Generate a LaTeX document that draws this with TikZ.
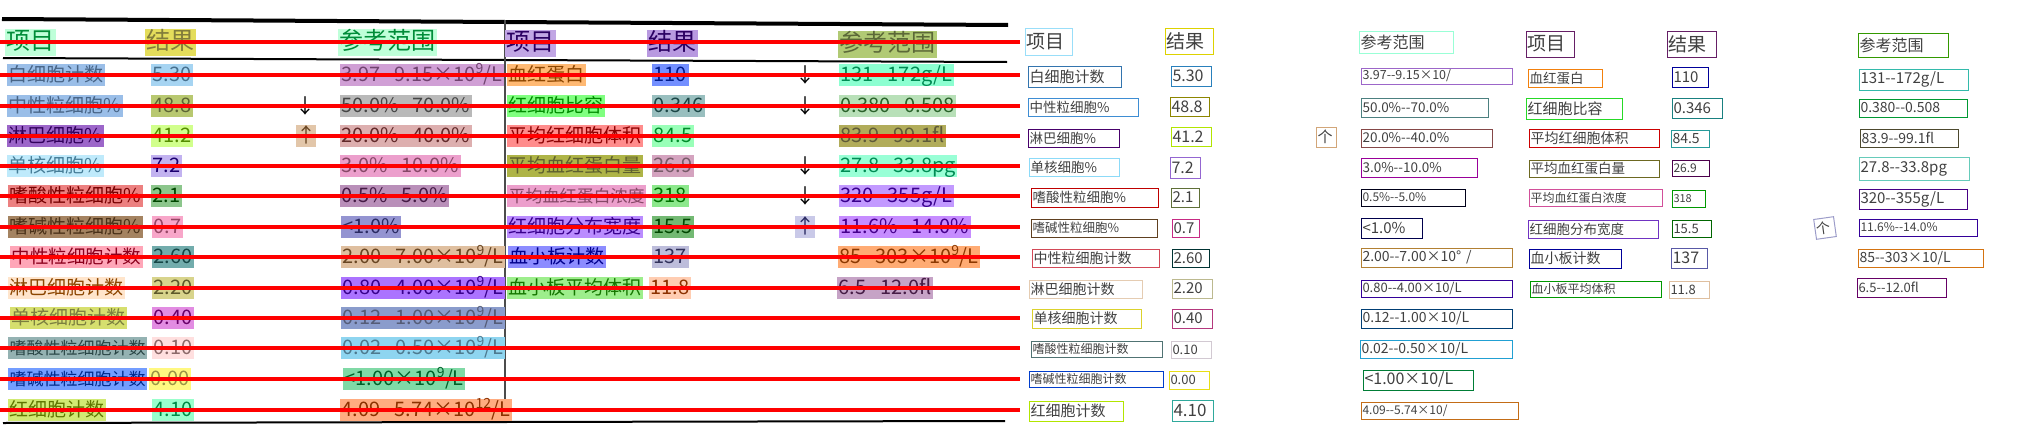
\documentclass[tikz,border=0pt]{standalone}
\usepackage{fontspec}
\newfontfamily\cjk{Noto Sans CJK SC}
\newcommand\tsize[1]{\cjk\fontsize{#1}{#1}\selectfont}
\begin{document}
\begin{tikzpicture}[
    x=1pt, y=-1pt,
    cell/.style={anchor=west, inner xsep=1.5pt, inner ysep=2pt, text height=15pt, text depth=3pt},
    hl/.style 2 args={cell, fill=#1!#2, text=#1!55!black, font=\tsize{19}},
    head/.style 2 args={hl={#1}{#2}, font=\tsize{24}, text height=19pt, text depth=4pt},
    num/.style 2 args={hl={#1}{#2}, font=\tsize{20}},
    arrowsign/.style={font=\tsize{20}, inner sep=0pt, text=black},
    ocr/.style={anchor=west, draw=#1, line width=1pt, inner xsep=1pt, inner ysep=0pt, align=left, text=black!75, font=\tsize{14}},
    strike/.style={red, line width=3.5pt},
    tablerule/.style={black, line width=#1}
]
    \useasboundingbox (0,0) rectangle (2040,434);

    % Table rules
    \draw [tablerule=4pt] (2,19) -- (1008,25);
    \draw [tablerule=2pt] (3,58) -- (1007,62);
    \draw [tablerule=1.5pt, black!70] (505,20) -- (505,422);
    \draw [tablerule=2pt] (3,423) -- (1005,421);

    % Left table, first half
    \node [head={green!60!cyan}{25}] (L0a) at (5,42) {项目};
    \node [head={olive!40!yellow}{60}] (L0b) at (145,42) {结果};
    \node [head={green!60!cyan}{25}] (L0c) at (338,42) {参考范围};

    \node [hl={cyan!60!blue}{40}] (L1a) at (7,75) {白细胞计数};
    \node [num={cyan!80!blue}{35}] (L1b) at (151,75) {5.30};
    \node [num={magenta!50!blue}{35}] (L1c) at (340,75) {3.97--9.15×10\textsuperscript{9}/L};

    \node [hl={cyan!60!blue}{40}] (L2a) at (7,106) {中性粒细胞\%};
    \node [num={olive!70!green}{50}] (L2b) at (151,106) {48.8};
    \node [arrowsign] (L2s) at (305,106) {↓};
    \node [num={gray}{55}] (L2c) at (340,106) {50.0\%--70.0\%};

    \node [hl={violet!70!blue}{60}] (L3a) at (7,136) {淋巴细胞\%};
    \node [num={lime!80!green}{45}] (L3b) at (151,136) {41.2};
    \node [hl={brown}{45}, anchor=center, font=\tsize{20}, inner xsep=0pt] (L3s) at (306,136) {↑};
    \node [num={red!40!gray}{45}] (L3c) at (340,136) {20.0\%--40.0\%};

    \node [hl={cyan}{25}] (L4a) at (7,166) {单核细胞\%};
    \node [num={blue!60!violet}{30}] (L4b) at (151,166) {7.2};
    \node [num={magenta!70!violet}{40}] (L4c) at (340,166) {3.0\%--10.0\%};

    \node [hl={red!85!black}{50}] (L5a) at (8,196) {嗜酸性粒细胞\%};
    \node [num={green!50!black}{45}] (L5b) at (151,196) {2.1};
    \node [num={violet!60!gray}{55}] (L5c) at (340,196) {0.5\%--5.0\%};

    \node [hl={brown!70!black}{75}] (L6a) at (8,227) {嗜碱性粒细胞\%};
    \node [num={magenta!80!red}{35}] (L6b) at (152,227) {0.7};
    \node [num={blue!40!gray}{60}] (L6c) at (341,227) {<1.0\%};

    \node [hl={red!80!magenta}{35}, font=\tsize{18.5}] (L7a) at (10,257) {中性粒细胞计数};
    \node [num={teal!70!gray}{65}] (L7b) at (152,257) {2.60};
    \node [num={brown}{50}] (L7c) at (341,257) {2.00--7.00×10\textsuperscript{9}/L};

    \node [hl={orange}{20}] (L8a) at (8,288) {淋巴细胞计数};
    \node [num={olive}{35}] (L8b) at (152,288) {2.20};
    \node [num={blue!60!magenta}{55}] (L8c) at (341,288) {0.80--4.00×10\textsuperscript{9}/L};

    \node [hl={olive!30!lime}{55}] (L9a) at (10,318) {单核细胞计数};
    \node [num={violet!50!magenta}{45}] (L9b) at (152,318) {0.40};
    \node [num={cyan!40!blue!70!gray}{60}] (L9c) at (341,318) {0.12--1.00×10\textsuperscript{9}/L};

    \node [hl={teal!40!gray}{60}, font=\tsize{17}] (L10a) at (8,348) {嗜酸性粒细胞计数};
    \node [num={pink}{50}] (L10b) at (152,348) {0.10};
    \node [num={cyan!85!gray}{50}] (L10c) at (341,348) {0.02--0.50×10\textsuperscript{9}/L};

    \node [hl={blue!70!cyan}{55}, font=\tsize{17}] (L11a) at (8,379) {嗜碱性粒细胞计数};
    \node [num={yellow}{50}] (L11b) at (149,379) {0.00};
    \node [num={teal!60!green}{50}] (L11c) at (343,379) {<1.00×10\textsuperscript{9}/L};

    \node [hl={lime!70!olive}{55}] (L12a) at (8,410) {红细胞计数};
    \node [num={green!50!cyan}{40}] (L12b) at (152,410) {4.10};
    \node [num={orange!70!red}{50}] (L12c) at (340,410) {4.09--5.74×10\textsuperscript{12}/L};

    % Left table, second half
    \node [head={violet!60!blue}{35}] (R0a) at (505,43) {项目};
    \node [head={violet!60!blue}{40}] (R0b) at (647,43) {结果};
    \node [head={olive!60!green}{50}] (R0c) at (838,44) {参考范围};

    \node [hl={orange}{55}] (R1a) at (507,75) {血红蛋白};
    \node [num={blue!80!cyan}{55}] (R1b) at (652,75) {110};
    \node [arrowsign] (R1s) at (805,75) {↓};
    \node [num={green!40!cyan}{45}] (R1c) at (839,75) {131--172g/L};

    \node [hl={green}{50}] (R2a) at (507,106) {红细胞比容};
    \node [num={teal!60!gray}{50}] (R2b) at (652,106) {0.346};
    \node [arrowsign] (R2s) at (805,106) {↓};
    \node [num={green!40!gray}{40}] (R2c) at (839,106) {0.380--0.508};

    \node [hl={red}{45}] (R3a) at (507,136) {平均红细胞体积};
    \node [num={green!70!cyan}{40}] (R3b) at (652,136) {84.5};
    \node [num={olive!70!gray}{70}] (R3c) at (839,136) {83.9--99.1fl};

    \node [hl={olive!85!green}{65}] (R4a) at (507,166) {平均血红蛋白量};
    \node [num={magenta!40!gray}{60}] (R4b) at (652,166) {26.9};
    \node [arrowsign] (R4s) at (805,166) {↓};
    \node [num={green!40!cyan}{40}] (R4c) at (839,166) {27.8--33.8pg};

    \node [hl={magenta!70!violet}{40}, font=\tsize{17}] (R5a) at (507,196) {平均血红蛋白浓度};
    \node [num={green!80!black}{45}] (R5b) at (652,196) {318};
    \node [arrowsign] (R5s) at (805,196) {↓};
    \node [num={blue!60!magenta}{40}] (R5c) at (839,196) {320--355g/L};

    \node [hl={blue!60!magenta}{45}] (R6a) at (507,227) {红细胞分布宽度};
    \node [num={green!50!black}{55}] (R6b) at (652,227) {15.5};
    \node [hl={blue!40!gray}{30}, anchor=center, font=\tsize{20}, inner xsep=0pt] (R6s) at (805,227) {↑};
    \node [num={blue!50!magenta}{45}] (R6c) at (839,227) {11.6\%--14.0\%};

    \node [hl={blue}{45}] (R7a) at (508,257) {血小板计数};
    \node [num={blue!30!gray}{40}] (R7b) at (652,257) {137};
    \node [num={orange!80!red}{55}] (R7c) at (838,257) {85--303×10\textsuperscript{9}/L};

    \node [hl={green!70!olive}{45}] (R8a) at (507,288) {血小板平均体积};
    \node [num={orange!70!red}{30}] (R8b) at (649,288) {11.8};
    \node [num={violet!60!gray}{45}] (R8c) at (837,288) {6.5--12.0fl};

    % Strike lines over the table
    \foreach \y in {42,75,106,136,166,196,227,257,288,318,348,379,410}
        \draw [strike] (0,\y) -- (1020,\y);

    % Recognised text, first half
    \node [ocr=cyan!40, text width=45pt, minimum height=27pt, font=\tsize{19}] (oL0a) at (1025,41.5) {项目};
    \node [ocr=yellow!70!olive, text width=46pt, minimum height=26pt, font=\tsize{19}] (oL0b) at (1165,41) {结果};
    \node [ocr=green!40!cyan!40, text width=92pt, minimum height=22pt, font=\tsize{16}] (oL0c) at (1359,42) {参考范围};

    \node [ocr=cyan!60!blue!80!black, text width=91pt, minimum height=21pt, font=\tsize{15}] (oL1a) at (1028,76.5) {白细胞计数};
    \node [ocr=cyan!70!blue!85!black, text width=38pt, minimum height=20pt, font=\tsize{16}] (oL1b) at (1171,76) {5.30};
    \node [ocr=violet!70!blue!60, text width=149pt, minimum height=16pt, font=\tsize{12.5}] (oL1c) at (1361,76) {3.97--9.15×10/};

    \node [ocr=cyan!60!blue!80, text width=108pt, minimum height=18pt, font=\tsize{13.5}] (oL2a) at (1028,107) {中性粒细胞\%};
    \node [ocr=olive, text width=37pt, minimum height=19pt, font=\tsize{16}] (oL2b) at (1170,106.5) {48.8};
    \node [ocr=teal!40!gray, text width=125pt, minimum height=19pt, font=\tsize{13.5}] (oL2c) at (1361,107.5) {50.0\%--70.0\%};

    \node [ocr=violet!80!blue!70!black, text width=89pt, minimum height=18pt, font=\tsize{13.5}] (oL3a) at (1028,138) {淋巴细胞\%};
    \node [ocr=lime!80!olive, text width=38pt, minimum height=19pt, font=\tsize{16}] (oL3b) at (1171,136.5) {41.2};
    \node [ocr=brown!70, text width=18pt, minimum height=20pt, font=\tsize{15}] (oL3s) at (1316,137) {个};
    \node [ocr=red!30!gray!80!black, text width=129pt, minimum height=18pt, font=\tsize{13.5}] (oL3c) at (1361,138) {20.0\%--40.0\%};

    \node [ocr=cyan!45, text width=88pt, minimum height=18pt, font=\tsize{13.5}] (oL4a) at (1029,167) {单核细胞\%};
    \node [ocr=blue!40!violet!60, text width=28pt, minimum height=21pt, font=\tsize{16}] (oL4b) at (1170,167.5) {7.2};
    \node [ocr=violet!80!magenta, text width=114pt, minimum height=19pt, font=\tsize{13.5}] (oL4c) at (1361,167.5) {3.0\%--10.0\%};

    \node [ocr=red!75!black, text width=125pt, minimum height=19pt, font=\tsize{13.5}] (oL5a) at (1031,197.5) {嗜酸性粒细胞\%};
    \node [ocr=olive!60!green!60!black, text width=26pt, minimum height=19pt, font=\tsize{15}] (oL5b) at (1171,197.5) {2.1};
    \node [ocr=black!90!blue, text width=102pt, minimum height=17pt, font=\tsize{12}] (oL5c) at (1361,197.5) {0.5\%--5.0\%};

    \node [ocr=brown!50!black, text width=124pt, minimum height=18pt, font=\tsize{12.5}] (oL6a) at (1031,228) {嗜碱性粒细胞\%};
    \node [ocr=magenta!80!black, text width=25pt, minimum height=18pt, font=\tsize{15}] (oL6b) at (1172,228) {0.7};
    \node [ocr=blue!30!black, text width=59pt, minimum height=20pt, font=\tsize{15}] (oL6c) at (1361,228) {<1.0\%};

    \node [ocr=magenta!30!red!70!gray, text width=125pt, minimum height=18pt, font=\tsize{14}] (oL7a) at (1032,258) {中性粒细胞计数};
    \node [ocr=teal!40!black, text width=35pt, minimum height=18pt, font=\tsize{15}] (oL7b) at (1172,258) {2.60};
    \node [ocr=brown!80!olive, text width=149pt, minimum height=19pt, font=\tsize{14}] (oL7c) at (1361,257.5) {2.00--7.00×10° /};

    \node [ocr=brown!40, text width=111pt, minimum height=18pt, font=\tsize{14}] (oL8a) at (1029,289) {淋巴细胞计数};
    \node [ocr=olive!40!gray!60, text width=38pt, minimum height=19pt, font=\tsize{15}] (oL8b) at (1172,288.5) {2.20};
    \node [ocr=violet!50!blue!80!black, text width=149pt, minimum height=17pt, font=\tsize{13}] (oL8c) at (1361,288.5) {0.80--4.00×10/L};

    \node [ocr=olive!40!yellow!80, text width=107pt, minimum height=19pt, font=\tsize{14}] (oL9a) at (1032,318.5) {单核细胞计数};
    \node [ocr=magenta!70!black, text width=38pt, minimum height=19pt, font=\tsize{15}] (oL9b) at (1172,318.5) {0.40};
    \node [ocr=teal!70!blue!70!black, text width=149pt, minimum height=19pt, font=\tsize{14}] (oL9c) at (1361,318.5) {0.12--1.00×10/L};

    \node [ocr=teal!30!gray!90!black, text width=129pt, minimum height=16pt, font=\tsize{12}] (oL10a) at (1031,349) {嗜酸性粒细胞计数};
    \node [ocr=violet!20!gray!35, text width=38pt, minimum height=17pt, font=\tsize{13}] (oL10b) at (1171,349.5) {0.10};
    \node [ocr=cyan!70!teal, text width=150pt, minimum height=18pt, font=\tsize{14}] (oL10c) at (1360,349) {0.02--0.50×10/L};

    \node [ocr=blue!70!cyan!80!black, text width=132pt, minimum height=16pt, font=\tsize{12}] (oL11a) at (1029,379) {嗜碱性粒细胞计数};
    \node [ocr=yellow!90!black, text width=38pt, minimum height=18pt, font=\tsize{13}] (oL11b) at (1169,380) {0.00};
    \node [ocr=teal!60!green!70!black, text width=108pt, minimum height=20pt, font=\tsize{16}] (oL11c) at (1363,380) {<1.00×10/L};

    \node [ocr=lime!80!olive, text width=92pt, minimum height=20pt, font=\tsize{15}] (oL12a) at (1029,411) {红细胞计数};
    \node [ocr=cyan!50!green!80!gray, text width=39pt, minimum height=21pt, font=\tsize{17}] (oL12b) at (1172,410.5) {4.10};
    \node [ocr=orange!60!brown!85!black, text width=155pt, minimum height=17pt, font=\tsize{12}] (oL12c) at (1361,410.5) {4.09--5.74×10/};

    % Recognised text, second half
    \node [ocr=violet!70!gray!80!black, text width=46pt, minimum height=26pt, font=\tsize{19}] (oR0a) at (1526,44) {项目};
    \node [ocr=violet!70!gray!80!black, text width=47pt, minimum height=26pt, font=\tsize{19}] (oR0b) at (1667,44) {结果};
    \node [ocr=green!50!olive!80!black, text width=88pt, minimum height=24pt, font=\tsize{16}] (oR0c) at (1858,45) {参考范围};

    \node [ocr=orange!80!brown, text width=72pt, minimum height=18pt, font=\tsize{13.5}] (oR1a) at (1528,78) {血红蛋白};
    \node [ocr=blue!60!black, text width=34pt, minimum height=20pt, font=\tsize{15}] (oR1b) at (1672,77) {110};
    \node [ocr=cyan!50!green!80, text width=107pt, minimum height=21pt, font=\tsize{15}] (oR1c) at (1859,79.5) {131--172g/L};

    \node [ocr=green!70!gray, text width=94pt, minimum height=21pt, font=\tsize{15}] (oR2a) at (1526,108.5) {红细胞比容};
    \node [ocr=teal!80!gray, text width=48pt, minimum height=20pt, font=\tsize{15}] (oR2b) at (1672,108) {0.346};
    \node [ocr=green!50!teal!80!black, text width=106pt, minimum height=18pt, font=\tsize{14}] (oR2c) at (1859,108) {0.380--0.508};

    \node [ocr=red!80!black, text width=128pt, minimum height=18pt, font=\tsize{14}] (oR3a) at (1529,138) {平均红细胞体积};
    \node [ocr=teal!70!cyan!70!gray, text width=36pt, minimum height=17pt, font=\tsize{14}] (oR3b) at (1671,138.5) {84.5};
    \node [ocr=olive!40!black, text width=96pt, minimum height=18pt, font=\tsize{14}] (oR3c) at (1860,138) {83.9--99.1fl};

    \node [ocr=olive!70!black, text width=128pt, minimum height=17pt, font=\tsize{13.5}] (oR4a) at (1529,168.5) {平均血红蛋白量};
    \node [ocr=violet!60!black, text width=35pt, minimum height=16pt, font=\tsize{12}] (oR4b) at (1672,168) {26.9};
    \node [ocr=cyan!50!green!60, text width=108pt, minimum height=23pt, font=\tsize{15}] (oR4c) at (1859,168.5) {27.8--33.8pg};

    \node [ocr=magenta!60!violet!80, text width=131pt, minimum height=17pt, font=\tsize{12}] (oR5a) at (1529,197.5) {平均血红蛋白浓度};
    \node [ocr=green!60!black, text width=31pt, minimum height=17pt, font=\tsize{11}] (oR5b) at (1672,198.5) {318};
    \node [ocr=violet!70!blue!80!black, text width=106pt, minimum height=20pt, font=\tsize{15}] (oR5c) at (1859,199) {320--355g/L};

    \node [ocr=violet!60!blue!80, text width=128pt, minimum height=18pt, font=\tsize{13.5}] (oR6a) at (1528,229) {红细胞分布宽度};
    \node [ocr=green!40!black, text width=37pt, minimum height=17pt, font=\tsize{13}] (oR6b) at (1672,228.5) {15.5};
    \node [ocr=blue!30!gray!60, text width=18pt, minimum height=20pt, font=\tsize{14}, anchor=center, rotate=8] (oR6s) at (1825,228) {个};
    \node [ocr=violet!50!blue!80!black, text width=116pt, minimum height=17pt, font=\tsize{12}] (oR6c) at (1859,227.5) {11.6\%--14.0\%};

    \node [ocr=blue!60!black, text width=90pt, minimum height=19pt, font=\tsize{14}] (oR7a) at (1529,258.5) {血小板计数};
    \node [ocr=blue!30!gray, text width=34pt, minimum height=20pt, font=\tsize{16}] (oR7b) at (1671,258) {137};
    \node [ocr=orange!70!brown!90!black, text width=123pt, minimum height=18pt, font=\tsize{14}] (oR7c) at (1858,258) {85--303×10/L};

    \node [ocr=green!60!black, text width=129pt, minimum height=16pt, font=\tsize{12}] (oR8a) at (1530,289) {血小板平均体积};
    \node [ocr=brown!50, text width=38pt, minimum height=17pt, font=\tsize{13}] (oR8b) at (1669,289.5) {11.8};
    \node [ocr=violet!80!black, text width=87pt, minimum height=19pt, font=\tsize{13}] (oR8c) at (1857,287.5) {6.5--12.0fl};
\end{tikzpicture}
\end{document}
